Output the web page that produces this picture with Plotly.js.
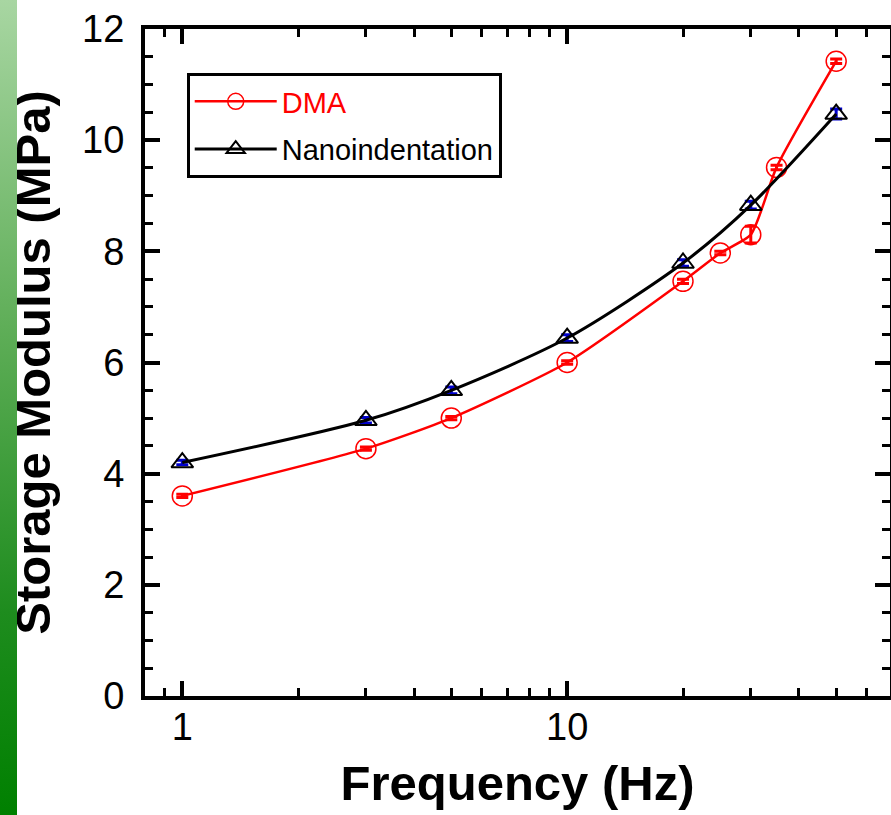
<!DOCTYPE html>
<html>
<head>
<meta charset="utf-8">
<script src="https://cdn.plot.ly/plotly-3.0.1.min.js"></script>
<style>
html, body { margin: 0; padding: 0; background: #fff; }
#chart { position: absolute; left: 0; top: 0; width: 891px; height: 815px; }
#bar { position: absolute; left: 0; top: 0; width: 17px; height: 815px;
       background: linear-gradient(to bottom, #a8d6a2 0%, #5fae58 40%, #1e8c1e 75%, #008000 100%); z-index: 5; }
</style>
</head>
<body>
<div id="chart"></div>
<div id="bar"></div>
<script>
// Data
const dmaFreq = [1, 3, 5, 10, 20, 25, 30, 35, 50];
const dmaModulus = [3.6, 4.45, 5.0, 6.0, 7.46, 7.97, 8.3, 9.51, 11.42];
const dmaErr = [0.03, 0.03, 0.03, 0.03, 0.04, 0.03, 0.15, 0.04, 0.04];

const nanoFreq = [1, 3, 5, 10, 20, 30, 50];
const nanoModulus = [4.2, 4.96, 5.5, 6.44, 7.79, 8.83, 10.47];
const nanoErr = [0.04, 0.05, 0.06, 0.06, 0.06, 0.07, 0.09];

const seriesNames = ['DMA', 'Nanoindentation'];
const xTitle = 'Frequency (Hz)';
const yTitle = 'Storage Modulus (MPa)';

const font = 'Arial, "Liberation Sans", sans-serif';

const traces = [
  {
    x: dmaFreq, y: dmaModulus, type: 'scatter', mode: 'lines+markers',
    name: '<span style="color:#ff0000">' + seriesNames[0] + '</span>',
    legendgroup: 'a',
    line: {color: '#ff0000', width: 2.5, shape: 'spline', smoothing: 0.6},
    marker: {symbol: 'circle-open', size: 20, color: '#ff0000', line: {width: 1.5, color: '#ff0000'}},
    error_y: {type: 'data', array: dmaErr, visible: true, color: '#ff0000', thickness: 3, width: 6}
  },
  {
    x: nanoFreq, y: nanoModulus, type: 'scatter', mode: 'lines+markers',
    name: seriesNames[1],
    legendgroup: 'b',
    line: {color: '#000000', width: 3, shape: 'spline', smoothing: 0.8},
    marker: {symbol: 'triangle-up-open', size: 19, color: '#000000', line: {width: 2, color: '#000000'}},
    error_y: {type: 'data', array: nanoErr, visible: true, color: '#0000cc', thickness: 3, width: 6}
  }
];

const layout = {
  width: 891, height: 815,
  margin: {l: 145, r: 1, t: 29, b: 119},
  paper_bgcolor: '#ffffff', plot_bgcolor: '#ffffff',
  font: {family: font, color: '#000000'},
  showlegend: true,
  legend: {
    x: 0.056, y: 0.934, xanchor: 'left', yanchor: 'top',
    bordercolor: '#000000', borderwidth: 3, bgcolor: '#ffffff',
    font: {family: font, size: 29, color: '#000000'},
    traceorder: 'grouped', tracegroupgap: 7, itemwidth: 82
  },
  xaxis: {
    type: 'log',
    range: [Math.log10(0.8), Math.log10(69)],
    tickvals: [1, 10], ticktext: ['1', '10'],
    ticks: 'inside', ticklen: 15, tickwidth: 4, tickcolor: '#000',
    minor: {ticks: 'inside', ticklen: 8, tickwidth: 3, tickcolor: '#000',
            tickvals: [0.9, 2, 3, 4, 5, 6, 7, 8, 9, 20, 30, 40, 50, 60], showgrid: false},
    showline: true, linewidth: 4, linecolor: '#000', mirror: 'ticks',
    showgrid: false, zeroline: false,
    tickfont: {family: font, size: 38, color: '#000'},
    ticklabelstandoff: -6,
    title: {text: '<b>' + xTitle + '</b>', font: {family: font, size: 49, color: '#000'}, standoff: 20}
  },
  yaxis: {
    range: [0, 12], dtick: 2,
    ticks: 'inside', ticklen: 15, tickwidth: 4, tickcolor: '#000',
    minor: {ticks: 'inside', ticklen: 8, tickwidth: 3, tickcolor: '#000', dtick: 0.5, showgrid: false},
    showline: true, linewidth: 4, linecolor: '#000', mirror: 'ticks',
    showgrid: false, zeroline: false,
    tickfont: {family: font, size: 38, color: '#000'},
    ticklabelstandoff: 9,
    title: {text: '<b>' + yTitle + '</b>', font: {family: font, size: 49, color: '#000'}, standoff: 17}
  }
};

Plotly.newPlot('chart', traces, layout, {displayModeBar: false, staticPlot: true});
</script>
</body>
</html>
